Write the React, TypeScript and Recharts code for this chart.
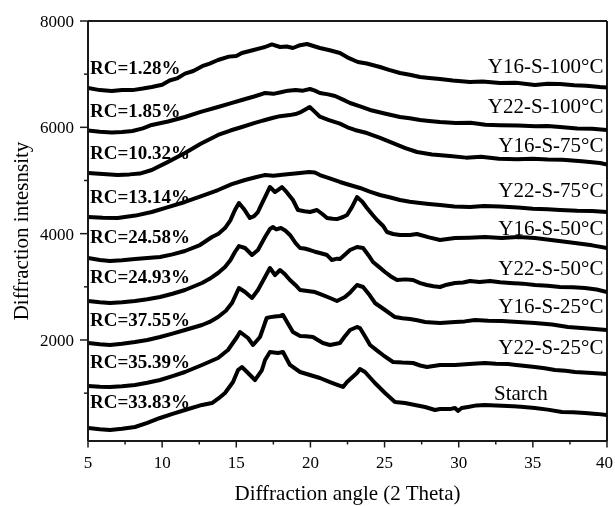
import React from 'react';
import { LineChart, Line, XAxis, YAxis, ReferenceLine } from 'recharts';

type Pt = [number, number];

// Series (2θ, intensity)
const y16s100: Pt[] = [[5,6740],[5.8,6700],[6.6,6683],[7.3,6700],[8.0,6700],[8.7,6730],[9.3,6760],[10.0,6800],[10.5,6880],[11.0,6920],[11.54,7010],[12.1,7060],[12.7,7150],[13.2,7200],[13.77,7266],[14.5,7330],[15.0,7340],[15.38,7398],[16.1,7450],[16.94,7511],[17.4,7560],[17.95,7511],[18.4,7520],[18.82,7492],[19.3,7545],[19.77,7567],[20.2,7530],[20.64,7492],[21.3,7450],[21.99,7398],[22.6,7300],[23.2,7229],[23.8,7200],[24.69,7135],[25.3,7080],[26.04,7022],[26.7,6990],[27.39,6947],[28.0,6930],[28.74,6909],[29.6,6880],[30.76,6853],[31.6,6860],[32.78,6834],[33.8,6840],[35.14,6796],[36.0,6820],[36.83,6815],[37.8,6790],[38.6,6780],[39.52,6758],[40,6750]];
const y22s100: Pt[] = [[5,5940],[5.8,5915],[6.6,5905],[7.3,5910],[8.0,5930],[8.7,5980],[9.3,6044],[10.4,6110],[11.54,6194],[12.6,6290],[13.77,6382],[14.6,6450],[15.38,6514],[16.2,6580],[16.94,6646],[17.5,6630],[18.0,6660],[18.5,6690],[19.0,6700],[19.5,6690],[19.97,6721],[20.3,6690],[20.64,6646],[21.2,6620],[21.66,6589],[22.2,6520],[22.67,6458],[23.3,6400],[24.02,6326],[25.0,6260],[26.04,6194],[26.7,6170],[27.39,6138],[28.0,6120],[28.74,6100],[29.8,6080],[30.8,6085],[31.8,6050],[32.78,6040],[34.0,6035],[35.2,6020],[36.0,6025],[36.83,6006],[38.0,5980],[39.0,5975],[40,5950]];
const y16s75: Pt[] = [[5,5141],[6.0,5120],[7.0,5103],[7.8,5115],[8.5,5130],[9.3,5197],[10.4,5350],[11.54,5517],[12.6,5690],[13.77,5856],[14.6,5940],[15.38,6006],[16.2,6080],[16.94,6138],[17.5,6180],[17.95,6210],[18.6,6230],[19.0,6250],[19.3,6280],[19.95,6382],[20.3,6290],[20.64,6200],[21.2,6140],[21.99,6070],[22.5,6000],[23.0,5950],[23.81,5893],[24.7,5800],[25.57,5705],[26.4,5610],[27.19,5536],[28.2,5490],[29.41,5460],[30.5,5430],[31.5,5445],[32.7,5410],[33.93,5400],[35.0,5410],[36.0,5395],[37.0,5390],[38.3,5360],[39.53,5330],[40,5300]];
const y22s75: Pt[] = [[5,4313],[6.0,4300],[7.0,4294],[8.2,4340],[9.3,4407],[10.4,4500],[11.54,4596],[12.6,4700],[13.77,4821],[14.7,4930],[15.59,5009],[16.3,5060],[16.94,5103],[17.5,5090],[17.95,5103],[18.6,5120],[19.3,5141],[19.9,5160],[20.3,5150],[20.64,5103],[21.3,5040],[21.99,4972],[22.6,4920],[23.34,4859],[24.0,4790],[24.69,4727],[25.4,4680],[26.04,4633],[26.7,4600],[27.39,4577],[28.0,4560],[28.74,4539],[29.7,4510],[30.76,4501],[31.7,4520],[32.78,4510],[34.0,4490],[35.0,4470],[36.0,4460],[36.83,4445],[38.0,4430],[39.0,4425],[40,4407]];
const y16s50: Pt[] = [[5,3542],[5.8,3505],[6.48,3486],[7.3,3500],[8.17,3523],[9.0,3540],[9.86,3561],[10.7,3610],[11.54,3674],[12.55,3786],[13.36,3937],[13.8,4000],[14.24,4106],[14.6,4250],[14.91,4445],[15.18,4577],[15.5,4470],[15.92,4294],[16.2,4330],[16.46,4407],[16.7,4550],[16.94,4689],[17.27,4878],[17.61,4784],[17.85,4830],[18.08,4878],[18.4,4780],[18.82,4633],[19.16,4445],[19.6,4420],[19.97,4407],[20.44,4445],[20.8,4370],[21.12,4294],[21.5,4280],[21.79,4275],[22.2,4313],[22.47,4351],[22.8,4500],[23.14,4689],[23.5,4600],[23.81,4483],[24.2,4350],[24.49,4257],[24.89,4150],[25.16,4031],[25.57,3994],[26.04,3975],[26.71,3975],[27.18,3994],[28.0,3930],[28.74,3881],[29.75,3918],[30.7,3925],[31.77,3937],[32.9,3920],[34.0,3935],[35.14,3918],[36.5,3870],[37.84,3824],[39.0,3780],[40,3730]];
const y22s50: Pt[] = [[5,2733],[5.8,2710],[6.48,2696],[7.3,2710],[8.17,2733],[9.0,2765],[9.86,2808],[10.7,2870],[11.54,2940],[12.69,3072],[13.2,3150],[13.77,3260],[14.24,3373],[14.6,3500],[14.91,3655],[15.18,3767],[15.59,3730],[16.06,3598],[16.46,3692],[16.94,3937],[17.27,4087],[17.48,4125],[17.7,4080],[18.01,4106],[18.3,4060],[18.62,3975],[19.0,3820],[19.3,3730],[19.6,3720],[19.97,3692],[20.3,3660],[20.64,3636],[21.12,3598],[21.45,3504],[21.8,3530],[21.99,3523],[22.3,3600],[22.67,3692],[23.14,3749],[23.55,3730],[23.9,3600],[24.22,3467],[24.6,3380],[25.03,3279],[25.4,3200],[25.84,3128],[26.4,3140],[26.92,3128],[27.4,3070],[27.86,3034],[28.3,3010],[28.74,2997],[29.2,3040],[29.75,3072],[30.3,3080],[30.76,3110],[31.4,3090],[32.11,3110],[32.8,3085],[33.46,3072],[34.3,3060],[35.14,3034],[36.0,3020],[36.83,2997],[37.7,2990],[38.52,2978],[39.3,2950],[40,2902]];
const y16s25: Pt[] = [[5,1943],[5.8,1920],[6.48,1906],[7.3,1930],[8.17,1962],[9.0,2000],[9.86,2056],[10.7,2120],[11.54,2188],[12.69,2282],[13.2,2340],[13.77,2432],[14.3,2550],[14.71,2695],[15.18,2978],[15.59,2902],[16.06,2790],[16.46,2940],[16.94,3185],[17.27,3354],[17.61,3222],[17.95,3316],[18.3,3230],[18.62,3128],[19.0,3030],[19.3,2940],[19.8,2920],[20.31,2902],[20.8,2850],[21.32,2790],[21.79,2733],[22.33,2808],[22.7,2900],[23.14,3034],[23.55,2997],[24.0,2840],[24.35,2696],[25.03,2564],[25.7,2432],[26.2,2410],[26.71,2394],[27.2,2370],[27.73,2338],[28.2,2330],[28.74,2319],[29.75,2338],[30.4,2350],[31.1,2376],[32.0,2360],[32.92,2357],[34.0,2340],[35.14,2319],[36.3,2290],[37.37,2244],[38.5,2220],[40,2188]];
const y22s25: Pt[] = [[5,1134],[5.8,1120],[6.48,1116],[7.3,1130],[8.17,1153],[9.0,1195],[9.86,1247],[10.7,1320],[11.54,1398],[12.69,1530],[13.77,1661],[14.44,1812],[15.05,2056],[15.25,2150],[15.79,2037],[16.13,1906],[16.6,2056],[17.05,2413],[17.3,2430],[17.6,2440],[17.95,2451],[18.15,2470],[18.5,2300],[18.82,2150],[19.3,2075],[19.7,2070],[20.17,2056],[20.5,2000],[20.84,1943],[21.32,1906],[21.99,1943],[22.3,2060],[22.67,2188],[23.14,2244],[23.34,2225],[23.7,2060],[24.02,1906],[24.5,1800],[24.89,1717],[25.57,1586],[26.2,1575],[26.92,1567],[27.4,1520],[27.86,1492],[28.74,1530],[29.75,1530],[30.7,1550],[31.77,1567],[32.5,1555],[33.32,1548],[34.2,1520],[35.14,1492],[35.8,1470],[36.49,1435],[37.2,1420],[37.84,1398],[39.0,1380],[40,1360]];
const starch: Pt[] = [[5,344],[5.8,320],[6.48,306],[7.3,330],[8.17,363],[9.0,440],[9.86,533],[10.7,610],[11.54,683],[12.69,778],[13.36,814],[13.8,900],[14.24,1003],[14.78,1209],[15.12,1435],[15.38,1492],[15.79,1379],[16.26,1247],[16.73,1435],[16.94,1624],[17.27,1774],[17.81,1755],[18.15,1774],[18.62,1530],[19.3,1398],[19.97,1341],[20.64,1285],[21.32,1209],[21.86,1153],[22.2,1116],[22.47,1209],[23.14,1379],[23.34,1454],[23.68,1398],[24.35,1191],[25.03,1003],[25.7,833],[26.38,814],[27.05,778],[27.73,740],[28.4,683],[28.74,702],[29.4,700],[29.75,721],[29.95,665],[30.2,720],[30.63,740],[31.2,770],[31.77,778],[32.5,770],[33.32,759],[34.2,745],[35.14,721],[36.0,690],[36.96,645],[37.7,640],[38.52,627],[39.3,610],[40,589]];

const seriesList: Pt[][] = [y16s100, y22s100, y16s75, y22s75, y16s50, y22s50, y16s25, y22s25, starch];
const sampleNames = ['Y16-S-100°C', 'Y22-S-100°C', 'Y16-S-75°C', 'Y22-S-75°C', 'Y16-S-50°C', 'Y22-S-50°C', 'Y16-S-25°C', 'Y22-S-25°C', 'Starch'];
const rcLabels = ['RC=1.28%', 'RC=1.85%', 'RC=10.32%', 'RC=13.14%', 'RC=24.58%', 'RC=24.93%', 'RC=37.55%', 'RC=35.39%', 'RC=33.83%'];

const xTicks = [5, 7.5, 10, 12.5, 15, 17.5, 20, 22.5, 25, 27.5, 30, 32.5, 35, 37.5, 40];
const yTicks = [1000, 2000, 3000, 4000, 5000, 6000, 7000, 8000];
const xDomain: [number, number] = [5, 40];
const yDomain: [number, number] = [100, 8000];

// layout / styling
const W = 607, H = 498;
const M = { top: 13, right: 8, bottom: 35, left: 0 };
const Y_AXIS_W = 80;
const X_AXIS_H = 30;
const PLOT_LEFT = M.left + Y_AXIS_W;
const PLOT_RIGHT = W - M.right;
const PLOT_BOTTOM = H - M.bottom - X_AXIS_H;
const FONT = "'Times New Roman', 'Liberation Serif', serif";
const AX = '#1a1a1a';

const rcBaselines = [66, 109, 151, 195, 235, 275, 318, 360, 400];
const nameBaselines = [65, 105, 144, 189, 227, 267, 305, 346, 392];

const XTick = (props: any) => {
  const { x, payload } = props;
  const v = payload.value as number;
  const major = v % 5 === 0;
  const last = v === xDomain[1];
  return (
    <g>
      <line x1={x} x2={x} y1={PLOT_BOTTOM} y2={PLOT_BOTTOM + (major ? 6.5 : 3.5)} stroke={AX} strokeWidth={1.5} />
      {major && (
        <text
          x={last ? PLOT_RIGHT + 6 : x}
          y={PLOT_BOTTOM + 27}
          textAnchor={last ? 'end' : 'middle'}
          fontFamily={FONT}
          fontSize={17}
          fill="#000"
        >
          {v}
        </text>
      )}
    </g>
  );
};

const YTick = (props: any) => {
  const { y, payload } = props;
  const v = payload.value as number;
  const major = v % 2000 === 0;
  return (
    <g>
      <line x1={PLOT_LEFT - (major ? 8 : 4)} x2={PLOT_LEFT} y1={y} y2={y} stroke={AX} strokeWidth={1.5} />
      {major && (
        <text x={PLOT_LEFT - 14} y={y + 6} textAnchor="end" fontFamily={FONT} fontSize={17} fill="#000">{v}</text>
      )}
    </g>
  );
};

export default function App() {
  return (
    <div style={{ position: 'fixed', left: 8, top: 8, width: W, height: H }}>
      <LineChart width={W} height={H} margin={M}>
        <XAxis
          type="number"
          dataKey="x"
          domain={xDomain}
          ticks={xTicks}
          interval={0}
          allowDataOverflow
          height={X_AXIS_H}
          tickLine={false}
          axisLine={{ stroke: AX, strokeWidth: 2 }}
          tick={<XTick />}
        />
        <YAxis
          type="number"
          domain={yDomain}
          ticks={yTicks}
          interval={0}
          allowDataOverflow
          width={Y_AXIS_W}
          tickLine={false}
          axisLine={{ stroke: AX, strokeWidth: 2 }}
          tick={<YTick />}
        />
        <ReferenceLine y={8000} stroke={AX} strokeWidth={2} />
        <ReferenceLine x={40} stroke={AX} strokeWidth={2} />
        {seriesList.map((s, i) => (
          <Line
            key={sampleNames[i]}
            data={s.map(([x, y]) => ({ x, y }))}
            dataKey="y"
            type="linear"
            stroke="#000"
            strokeWidth={4}
            strokeLinejoin="round"
            dot={false}
            activeDot={false}
            isAnimationActive={false}
          />
        ))}
      </LineChart>
      <svg width={W} height={H} style={{ position: 'absolute', left: 0, top: 0, pointerEvents: 'none' }}>
        {rcLabels.map((t, i) => (
          <text key={t} x={82} y={rcBaselines[i]} fontFamily={FONT} fontSize={19} fontWeight="bold" fill="#000">{t}</text>
        ))}
        {sampleNames.map((t, i) =>
          t === 'Starch' ? (
            <text key={t} x={486} y={nameBaselines[i]} fontFamily={FONT} fontSize={21} fill="#000">{t}</text>
          ) : (
            <text key={t} x={595.5} y={nameBaselines[i]} textAnchor="end" fontFamily={FONT} fontSize={21} fill="#000">{t}</text>
          )
        )}
        <text x={(PLOT_LEFT + PLOT_RIGHT) / 2} y={492} textAnchor="middle" fontFamily={FONT} fontSize={21} fill="#000">Diffraction angle (2 Theta)</text>
        <text x={20} y={223} transform="rotate(-90 20 223)" textAnchor="middle" fontFamily={FONT} fontSize={21} fill="#000">Diffraction intesnsity</text>
      </svg>
    </div>
  );
}
